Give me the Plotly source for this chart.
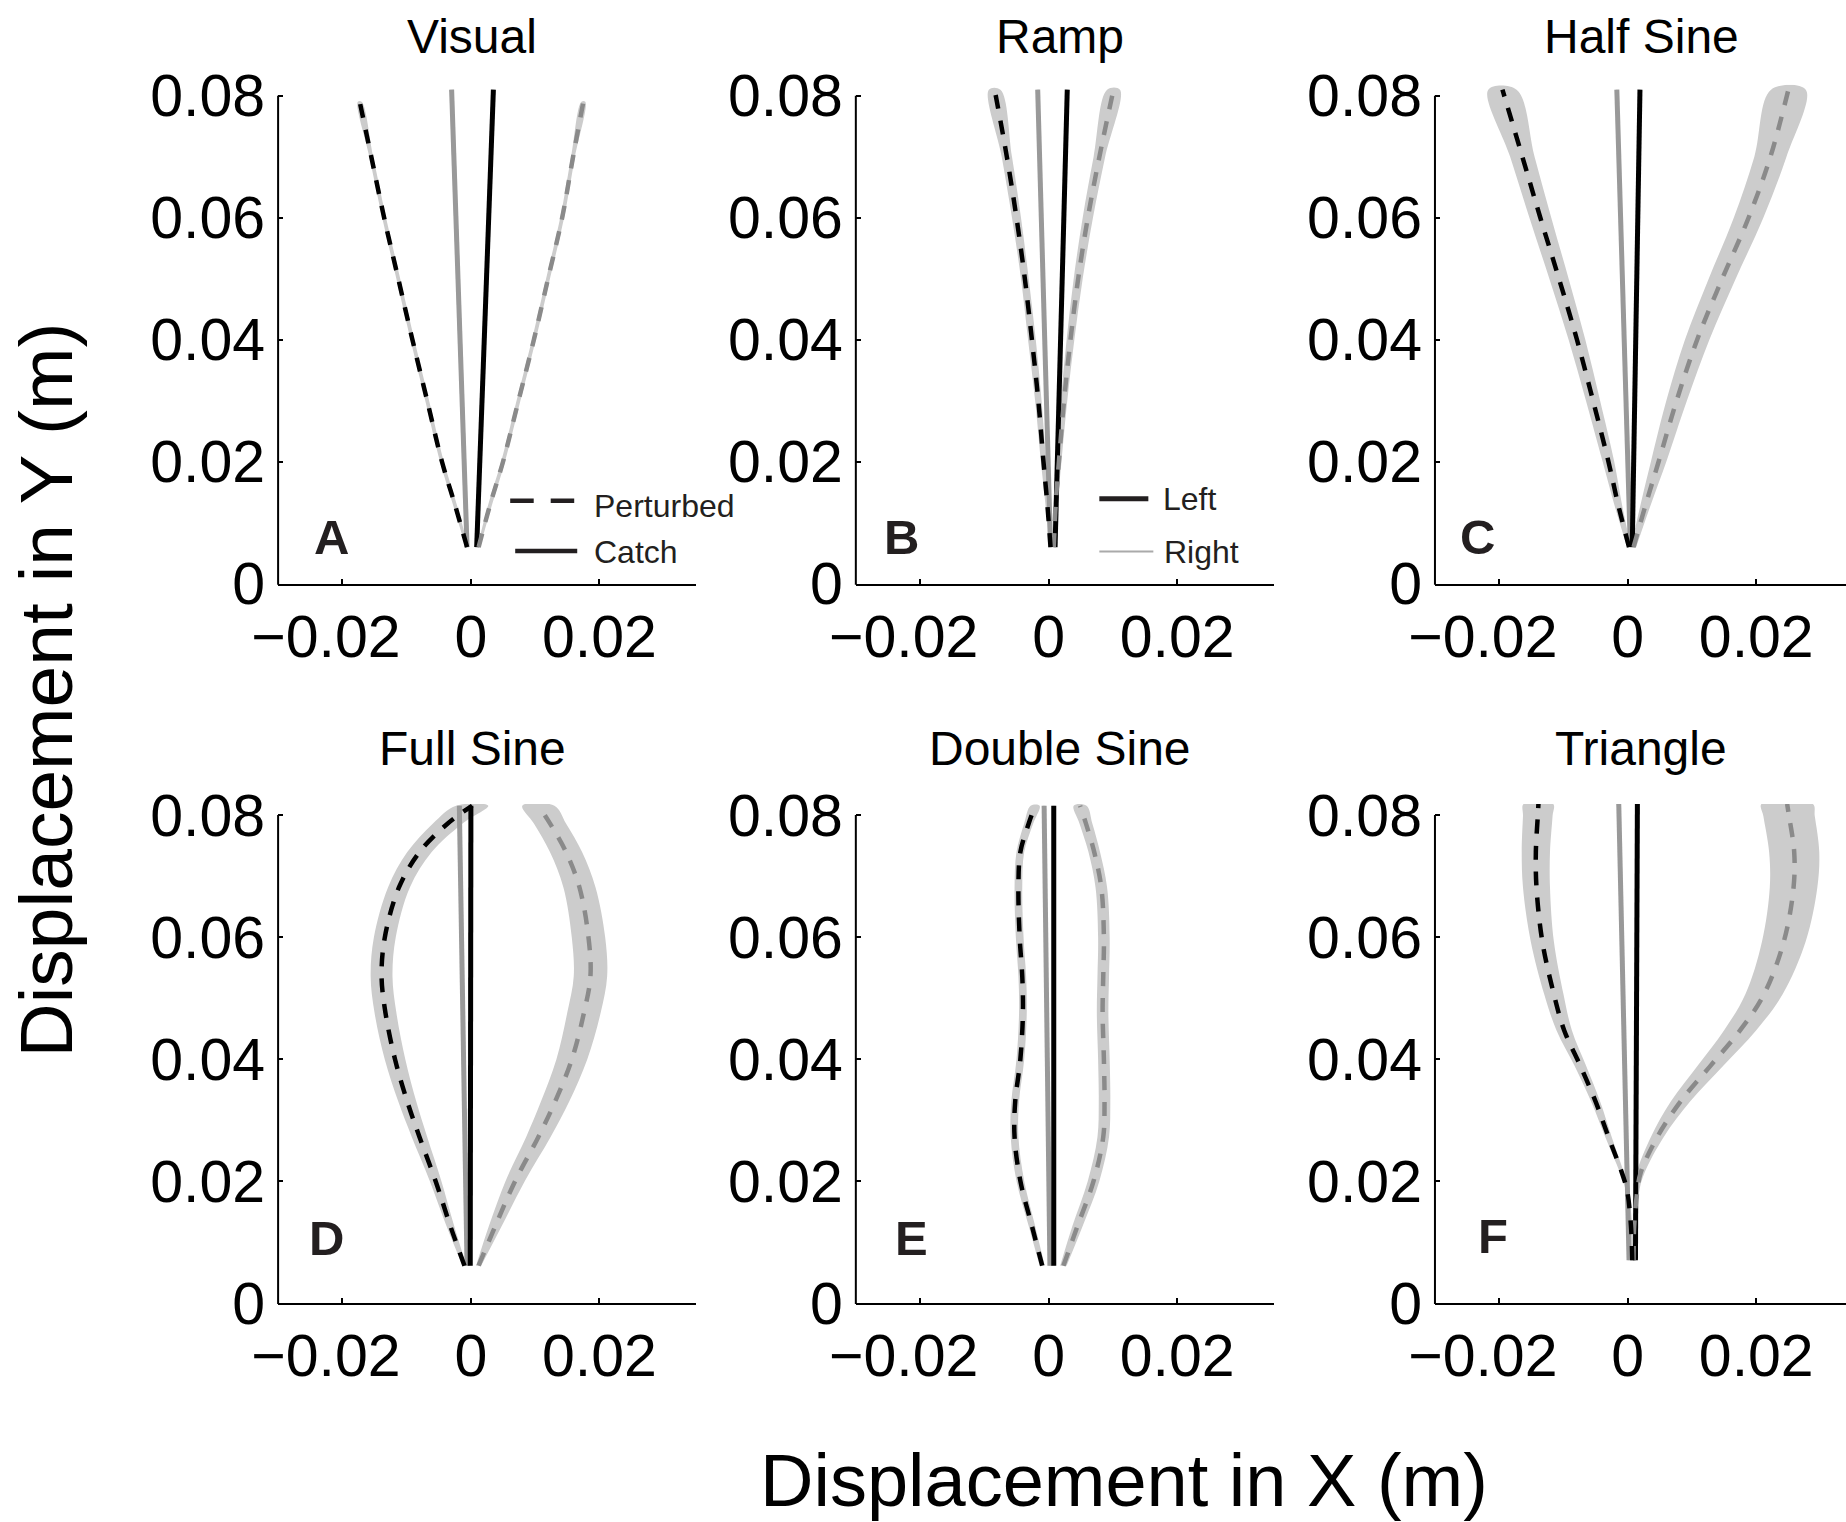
import plotly.graph_objects as go

W, H = 1846, 1522

# ---------------- data ----------------
panel_titles = ["Visual", "Ramp", "Half Sine", "Full Sine", "Double Sine", "Triangle"]
panel_letters = ["A", "B", "C", "D", "E", "F"]

x_tick_vals = [-0.02, 0.0, 0.02]
x_tick_text = ["\u22120.02\u00a0\u00a0", "0", "0.02"]
y_tick_vals = [0.0, 0.02, 0.04, 0.06, 0.08]
y_tick_text = ["0", "0.02", "0.04", "0.06", "0.08"]

# A  Visual
visual_pert_y = [0.006, 0.013, 0.02, 0.03, 0.04, 0.05, 0.06, 0.07, 0.079]
visual_left_pert_x = [-0.0006, -0.0025, -0.0045, -0.0068, -0.0091, -0.0113, -0.0135, -0.0155, -0.0173]
visual_left_pert_sd = [0.0002, 0.0003, 0.0003, 0.0003, 0.0003, 0.0003, 0.0003, 0.0003, 0.0003]
visual_right_pert_x = [0.0012, 0.0030, 0.0050, 0.0074, 0.0098, 0.0120, 0.0142, 0.0159, 0.0175]
visual_right_pert_sd = [0.0002, 0.0003, 0.0003, 0.0003, 0.0003, 0.0003, 0.0003, 0.0003, 0.0003]
visual_catch_y = [0.006, 0.081]
visual_left_catch_x = [0.0009, 0.0035]
visual_right_catch_x = [-0.0006, -0.0030]
visual_catch_sd = [0.0003, 0.0003]

# B  Ramp
ramp_pert_y = [0.006, 0.013, 0.02, 0.03, 0.04, 0.05, 0.06, 0.07, 0.081]
ramp_left_pert_x = [0.0003, -0.0002, -0.0008, -0.0016, -0.0026, -0.0037, -0.0050, -0.0065, -0.0084]
ramp_left_pert_sd = [0.0002, 0.0003, 0.0004, 0.0005, 0.0006, 0.0006, 0.0007, 0.0008, 0.0009]
ramp_right_pert_x = [0.0008, 0.0011, 0.0016, 0.0024, 0.0034, 0.0046, 0.0061, 0.0079, 0.0101]
ramp_right_pert_sd = [0.0002, 0.0003, 0.0004, 0.0005, 0.0006, 0.0007, 0.0008, 0.0009, 0.0010]
ramp_catch_y = [0.006, 0.081]
ramp_left_catch_x = [0.0010, 0.0029]
ramp_right_catch_x = [0.0003, -0.0017]
ramp_catch_sd = [0.0002, 0.0002]

# C  Half Sine
half_pert_y = [0.006, 0.013, 0.02, 0.03, 0.04, 0.05, 0.06, 0.07, 0.081]
half_left_pert_x = [0.0002, -0.0015, -0.0030, -0.0054, -0.0079, -0.0107, -0.0136, -0.0164, -0.0195]
half_left_pert_sd = [0.0003, 0.0006, 0.0009, 0.0011, 0.0013, 0.0015, 0.0017, 0.0019, 0.0022]
half_right_pert_x = [0.0009, 0.0028, 0.0048, 0.0076, 0.0108, 0.0147, 0.0188, 0.0222, 0.0250]
half_right_pert_sd = [0.0004, 0.0008, 0.0012, 0.0016, 0.0019, 0.0021, 0.0023, 0.0025, 0.0027]
half_catch_y = [0.006, 0.081]
half_left_catch_x = [0.0007, 0.0019]
half_right_catch_x = [0.0004, -0.0017]
half_catch_sd = [0.0001, 0.0001]

# D  Full Sine
full_pert_y = [0.0061, 0.0126, 0.0200, 0.0272, 0.0330, 0.0399, 0.0476, 0.0535, 0.0599, 0.0681, 0.0739, 0.0786, 0.0815]
full_left_pert_x = [-0.0010, -0.0032, -0.0055, -0.0080, -0.0099, -0.0118, -0.0133, -0.0139, -0.0134, -0.0112, -0.0080, -0.0036, 0.0002]
full_left_pert_sd = [0.0003, 0.0006, 0.0009, 0.0012, 0.0014, 0.0016, 0.0017, 0.0017, 0.0017, 0.0017, 0.0019, 0.0023, 0.0025]
full_right_pert_x = [0.0012, 0.0038, 0.0069, 0.0105, 0.0131, 0.0157, 0.0176, 0.0186, 0.0183, 0.0169, 0.0148, 0.0123, 0.0105]
full_right_pert_sd = [0.0004, 0.0010, 0.0015, 0.0019, 0.0022, 0.0024, 0.0026, 0.0026, 0.0026, 0.0025, 0.0025, 0.0025, 0.0025]
full_catch_y = [0.0061, 0.0815]
full_left_catch_x = [-0.0001, 0.0000]
full_right_catch_x = [-0.0006, -0.0018]
full_catch_sd = [0.0002, 0.0002]

# E  Double Sine
double_pert_y = [0.0061, 0.0126, 0.0200, 0.0272, 0.0330, 0.0399, 0.0476, 0.0535, 0.0599, 0.0681, 0.0739, 0.0786, 0.0815]
double_left_pert_x = [-0.0010, -0.0026, -0.0044, -0.0053, -0.0052, -0.0044, -0.0040, -0.0041, -0.0045, -0.0047, -0.0044, -0.0031, -0.0021]
double_left_pert_sd = [0.0004, 0.0005, 0.0006, 0.0006, 0.0006, 0.0006, 0.0006, 0.0006, 0.0006, 0.0006, 0.0006, 0.0007, 0.0007]
double_right_pert_x = [0.0023, 0.0045, 0.0070, 0.0085, 0.0087, 0.0086, 0.0084, 0.0085, 0.0086, 0.0082, 0.0071, 0.0058, 0.0049]
double_right_pert_sd = [0.0005, 0.0008, 0.0009, 0.0009, 0.0009, 0.0009, 0.0009, 0.0009, 0.0009, 0.0009, 0.0009, 0.0010, 0.0010]
double_catch_y = [0.0061, 0.0815]
double_left_catch_x = [0.0008, 0.0008]
double_right_catch_x = [0.0002, -0.0007]
double_catch_sd = [0.0002, 0.0002]

# F  Triangle
tri_pert_y = [0.0070, 0.0126, 0.0184, 0.0213, 0.0272, 0.0330, 0.0389, 0.0447, 0.0506, 0.0593, 0.0681, 0.0739, 0.0798, 0.0818]
tri_left_pert_x = [0.0007, 0.0005, -0.0001, -0.0009, -0.0030, -0.0050, -0.0074, -0.0099, -0.0115, -0.0133, -0.0142, -0.0143, -0.0140, -0.0139]
tri_left_pert_sd = [0.0002, 0.0002, 0.0002, 0.0003, 0.0005, 0.0007, 0.0009, 0.0012, 0.0015, 0.0018, 0.0021, 0.0022, 0.0023, 0.0023]
tri_right_pert_x = [0.0009, 0.0010, 0.0015, 0.0020, 0.0046, 0.0082, 0.0129, 0.0175, 0.0212, 0.0243, 0.0258, 0.0259, 0.0251, 0.0248]
tri_right_pert_sd = [0.0002, 0.0002, 0.0003, 0.0006, 0.0010, 0.0015, 0.0020, 0.0025, 0.0029, 0.0034, 0.0037, 0.0039, 0.0040, 0.0040]
tri_catch_y = [0.0070, 0.0818]
tri_left_catch_x = [0.0012, 0.0015]
tri_right_catch_x = [0.0002, -0.0014]
tri_catch_sd = [0.0002, 0.0002]

# legend labels
legend_style_labels = ["Perturbed", "Catch"]
legend_side_labels = ["Left", "Right"]

# ---------------- style / layout ----------------
FONT = "Liberation Sans, Arial, Helvetica, sans-serif"
BLACK = "#000000"
DARK = "#231f20"
GRAY_DASH = "#8a8a8a"
GRAY_SOLID = "#999999"
BAND = "#cccccc"

KX = 6425.0          # px per metre, x (target picture)
KY = 6107.0          # px per metre, y (target picture)
col_zero_px = [470.7, 1048.3, 1627.3]
row_zero_py = [583.2, 1303.2]
X_MIN, X_MAX = -0.03, 0.035
Y_MAX_RANGE = 0.0818

# calibration of page capture (target pixel -> layout pixel)
SX, OX = 0.9857, 25.9
SY, OY = 0.965, 19.8


def PX(p):
    return (p - OX) / SX / W


def PY(p):
    return 1 - (p - OY) / SY / H


def PX_inv(frac):
    return frac * W * SX + OX


panels = [
    dict(py=visual_pert_y, lx=visual_left_pert_x, lsd=visual_left_pert_sd, rx=visual_right_pert_x, rsd=visual_right_pert_sd,
         cy=visual_catch_y, clx=visual_left_catch_x, crx=visual_right_catch_x, csd=visual_catch_sd),
    dict(py=ramp_pert_y, lx=ramp_left_pert_x, lsd=ramp_left_pert_sd, rx=ramp_right_pert_x, rsd=ramp_right_pert_sd,
         cy=ramp_catch_y, clx=ramp_left_catch_x, crx=ramp_right_catch_x, csd=ramp_catch_sd),
    dict(py=half_pert_y, lx=half_left_pert_x, lsd=half_left_pert_sd, rx=half_right_pert_x, rsd=half_right_pert_sd,
         cy=half_catch_y, clx=half_left_catch_x, crx=half_right_catch_x, csd=half_catch_sd),
    dict(py=full_pert_y, lx=full_left_pert_x, lsd=full_left_pert_sd, rx=full_right_pert_x, rsd=full_right_pert_sd,
         cy=full_catch_y, clx=full_left_catch_x, crx=full_right_catch_x, csd=full_catch_sd),
    dict(py=double_pert_y, lx=double_left_pert_x, lsd=double_left_pert_sd, rx=double_right_pert_x, rsd=double_right_pert_sd,
         cy=double_catch_y, clx=double_left_catch_x, crx=double_right_catch_x, csd=double_catch_sd),
    dict(py=tri_pert_y, lx=tri_left_pert_x, lsd=tri_left_pert_sd, rx=tri_right_pert_x, rsd=tri_right_pert_sd,
         cy=tri_catch_y, clx=tri_left_catch_x, crx=tri_right_catch_x, csd=tri_catch_sd),
]


def band_polygon(x, sd, y):
    xs = [a - s for a, s in zip(x, sd)] + [a + s for a, s in zip(reversed(x), reversed(sd))]
    ys = list(y) + list(reversed(y))
    return xs, ys


fig = go.Figure()
layout = dict(
    width=W, height=H,
    margin=dict(l=0, r=0, t=0, b=0),
    paper_bgcolor="white", plot_bgcolor="white",
    showlegend=False,
    font=dict(family=FONT, color=BLACK),
)
shapes = []
annotations = []

title_centers_px = [(472, 35), (1060, 35), (1641, 35), (472, 748), (1060, 748), (1641, 748)]

for i, p in enumerate(panels):
    r, c = divmod(i, 3)
    n = i + 1
    xa = "x" if n == 1 else f"x{n}"
    ya = "y" if n == 1 else f"y{n}"
    zx = col_zero_px[c]
    zy = row_zero_py[r]
    left_px = zx + X_MIN * KX
    right_px = zx + X_MAX * KX
    d_left = PX(left_px)
    d_right = PX(right_px)
    x_hi = X_MAX
    if d_right > 1.0:
        d_right = 1.0
        x_hi = (PX_inv(1.0) - zx) / KX
    top_py = zy - Y_MAX_RANGE * KY

    axis_common = dict(showgrid=False, zeroline=False, ticks="inside", ticklen=5, tickwidth=2,
                       tickcolor=BLACK, tickfont=dict(size=59, family=FONT, color=BLACK), fixedrange=True)
    layout["xaxis" if n == 1 else f"xaxis{n}"] = dict(
        domain=[d_left, d_right], range=[X_MIN, x_hi], anchor=ya,
        showline=True, linewidth=2, linecolor=BLACK,
        tickvals=x_tick_vals, ticktext=x_tick_text, ticklabelstandoff=0, **axis_common)
    layout["yaxis" if n == 1 else f"yaxis{n}"] = dict(
        domain=[PY(zy), PY(top_py)], range=[0, Y_MAX_RANGE], anchor=xa,
        showline=False, tickvals=y_tick_vals, ticktext=y_tick_text, ticklabelstandoff=12, **axis_common)

    # y axis line only up to 0.08
    shapes.append(dict(type="line", xref="paper", yref="paper",
                       x0=d_left, x1=d_left,
                       y0=PY(zy + 1), y1=PY(zy - 0.08 * KY),
                       line=dict(color=BLACK, width=2)))

    # bands
    for xx, sd in [(p["lx"], p["lsd"]), (p["rx"], p["rsd"])]:
        bx, by = band_polygon(xx, sd, p["py"])
        fig.add_trace(go.Scatter(x=bx, y=by, xaxis=xa, yaxis=ya, mode="lines", fill="toself",
                                 fillcolor=BAND, line=dict(width=0, shape="spline", color=BAND),
                                 hoverinfo="skip"))
    for xx in [p["clx"], p["crx"]]:
        bx, by = band_polygon(xx, p["csd"], p["cy"])
        fig.add_trace(go.Scatter(x=bx, y=by, xaxis=xa, yaxis=ya, mode="lines", fill="toself",
                                 fillcolor=BAND, line=dict(width=0, color=BAND), hoverinfo="skip"))
    # catch lines
    fig.add_trace(go.Scatter(x=p["crx"], y=p["cy"], xaxis=xa, yaxis=ya, mode="lines",
                             line=dict(color=GRAY_SOLID, width=5), name="Right catch"))
    fig.add_trace(go.Scatter(x=p["clx"], y=p["cy"], xaxis=xa, yaxis=ya, mode="lines",
                             line=dict(color=BLACK, width=5), name="Left catch"))
    # perturbed lines
    fig.add_trace(go.Scatter(x=p["rx"], y=p["py"], xaxis=xa, yaxis=ya, mode="lines",
                             line=dict(color=GRAY_DASH, width=4.5, dash="14px,12px", shape="spline"),
                             name="Right perturbed"))
    fig.add_trace(go.Scatter(x=p["lx"], y=p["py"], xaxis=xa, yaxis=ya, mode="lines",
                             line=dict(color=BLACK, width=4.5, dash="14px,12px", shape="spline"),
                             name="Left perturbed"))

    # titles
    tx, ty = title_centers_px[i]
    annotations.append(dict(text=panel_titles[i], x=PX(tx), y=PY(ty), xref="paper", yref="paper",
                            xanchor="center", yanchor="middle", showarrow=False,
                            font=dict(size=48, family=FONT, color=BLACK)))

letter_px = [(331, 536), (901, 536), (1477, 536), (326, 1238), (911, 1238), (1493, 1236)]
for i, (lx, ly) in enumerate(letter_px):
    annotations.append(dict(text=f"<b>{panel_letters[i]}</b>", x=PX(lx), y=PY(ly), xref="paper", yref="paper",
                            xanchor="center", yanchor="middle", showarrow=False,
                            font=dict(size=49, family=FONT, color=DARK)))

# legends (panel A: line style, panel B: side)
shapes.append(dict(type="line", xref="paper", yref="paper", x0=PX(510), x1=PX(574), y0=PY(500), y1=PY(500),
                   line=dict(color=DARK, width=4.5, dash="23.5px,17px")))
shapes.append(dict(type="line", xref="paper", yref="paper", x0=PX(515), x1=PX(577), y0=PY(550.5), y1=PY(550.5),
                   line=dict(color=DARK, width=4.5)))
shapes.append(dict(type="line", xref="paper", yref="paper", x0=PX(1099), x1=PX(1148), y0=PY(498), y1=PY(498),
                   line=dict(color=DARK, width=5)))
shapes.append(dict(type="line", xref="paper", yref="paper", x0=PX(1099), x1=PX(1153), y0=PY(551), y1=PY(551),
                   line=dict(color="#aaaaaa", width=2)))
for txt, x_px, y_px in [(legend_style_labels[0], 592, 505), (legend_style_labels[1], 592, 551),
                        (legend_side_labels[0], 1161, 498), (legend_side_labels[1], 1162, 551)]:
    annotations.append(dict(text=txt, x=PX(x_px), y=PY(y_px), xref="paper", yref="paper",
                            xanchor="left", yanchor="middle", showarrow=False,
                            font=dict(size=32, family=FONT, color=DARK)))

# axis titles
annotations.append(dict(text="Displacement in Y (m)", x=PX(46), y=PY(690), xref="paper", yref="paper",
                        xanchor="center", yanchor="middle", textangle=-90, showarrow=False,
                        font=dict(size=75, family=FONT, color=BLACK)))
annotations.append(dict(text="Displacement in X (m)", x=PX(1124), y=PY(1481), xref="paper", yref="paper",
                        xanchor="center", yanchor="middle", showarrow=False,
                        font=dict(size=74, family=FONT, color=BLACK)))

layout["shapes"] = shapes
layout["annotations"] = annotations
fig.update_layout(**layout)
fig.write_html("out.html")
